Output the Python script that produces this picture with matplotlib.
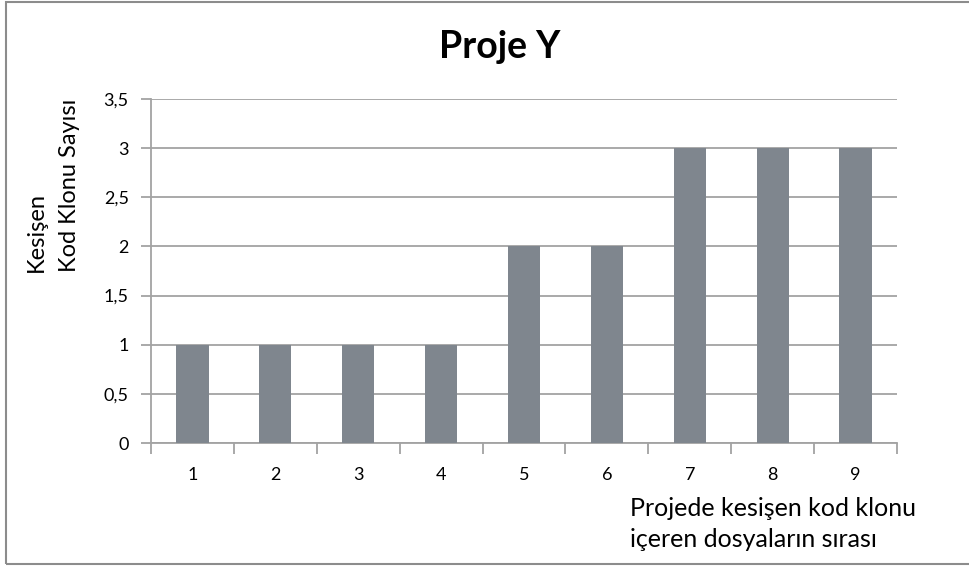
import matplotlib.pyplot as plt
from matplotlib.patches import Rectangle

# dosya sırası ve kesişen kod klonu sayısı
dosyalar = ["1", "2", "3", "4", "5", "6", "7", "8", "9"]
klon_sayisi = [1, 1, 1, 1, 2, 2, 3, 3, 3]
y_ticks = [0, 0.5, 1, 1.5, 2, 2.5, 3, 3.5]
y_labels = ["0", "0,5", "1", "1,5", "2", "2,5", "3", "3,5"]

plt.rcParams['font.family'] = ['Lato', 'DejaVu Sans']

fig = plt.figure(figsize=(9.7, 5.67), dpi=100)
ax = fig.add_axes([151 / 970, 1 - 443 / 567, (897 - 151) / 970, (443 - 99) / 567])

x = range(len(dosyalar))
ax.bar(x, klon_sayisi, width=0.39, color='#7f868e', zorder=3)

ax.set_xlim(-0.5, len(dosyalar) - 0.5)
ax.set_ylim(0, 3.5)
ax.set_yticks(y_ticks)
ax.set_yticklabels(y_labels, fontsize=13)
ax.set_xticks(list(x))
ax.set_xticklabels(dosyalar, fontsize=13)
ax.set_xticks([i + 0.5 for i in range(-1, len(dosyalar))], minor=True)

ax.grid(axis='y', color='#a3a3a3', linewidth=1.3, zorder=0)
ax.tick_params(axis='x', which='major', length=0, pad=17)
ax.tick_params(axis='x', which='minor', length=8, color='#a3a3a3', width=1.3)
ax.tick_params(axis='y', length=7, color='#a3a3a3', width=1.3, pad=9)

for s in ['top', 'right']:
    ax.spines[s].set_visible(False)
for s in ['left', 'bottom']:
    ax.spines[s].set_color('#a3a3a3')
    ax.spines[s].set_linewidth(1.3)

fig.text(500 / 970, 1 - 30 / 567, "Proje Y", ha='center', va='top',
         fontsize=27, fontweight='bold')
fig.text(53 / 970, 1 - 272 / 567, "Kesişen\nKod Klonu Sayısı", rotation=90,
         ha='center', va='bottom', multialignment='left', fontsize=17,
         linespacing=1.75)
fig.text(630 / 970, 1 - 497 / 567, "Projede kesişen kod klonu\niçeren dosyaların sırası",
         ha='left', va='top', fontsize=18, linespacing=1.42)

# grafik alanı çerçevesi
fig.patches.append(Rectangle((6 / 970, 3 / 567), 1.2, 1 - 5 / 567,
                             transform=fig.transFigure, fill=False,
                             edgecolor='#8c8c8c', linewidth=1.5))

fig.savefig("out.png", dpi=100)
